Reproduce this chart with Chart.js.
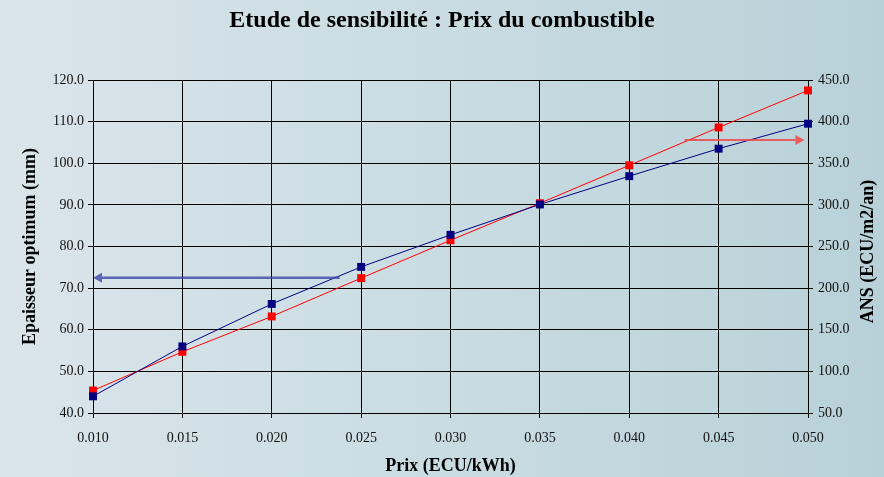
<!DOCTYPE html>
<html>
<head>
<meta charset="utf-8">
<script src="https://cdn.jsdelivr.net/npm/chart.js@4"></script>
<style>
  html, body { margin: 0; padding: 0; }
  body { width: 884px; height: 477px; overflow: hidden;
    background: linear-gradient(to right, #dae5ea 0%, #c9dce2 50%, #b8d1d8 100%); }
  #wrap { width: 884px; height: 477px; position: relative; }
</style>
</head>
<body>
<div id="wrap"><canvas id="c"></canvas></div>
<script>
// ---- data ----
const prix = [0.010, 0.015, 0.020, 0.025, 0.030, 0.035, 0.040, 0.045, 0.050];
const epaisseur = [44.0, 56.0, 66.2, 75.1, 82.8, 90.1, 96.9, 103.5, 109.5];
const ans = [77, 123.5, 166, 212, 257.5, 302, 347.5, 393, 437.5];

// axis-indicator arrows, in data units
const arrowBlue = { xFrom: 0.0238, xTo: 0.010, y: 72.5, axis: 'y' };
const arrowRed = { xFrom: 0.0431, xTo: 0.0498, y: 378, axis: 'y2' };

const rightTitle = 'ANS (ECU/m2/an)';
const serif = "'Liberation Serif', 'Times New Roman', serif";

const arrowPlugin = {
  id: 'axisArrows',
  afterDatasetsDraw(chart) {
    const ctx = chart.ctx;
    const xs = chart.scales.x;
    const draw = (a, color, w) => {
      const ys = chart.scales[a.axis];
      const x1 = xs.getPixelForValue(a.xFrom);
      const x2 = xs.getPixelForValue(a.xTo);
      const y = ys.getPixelForValue(a.y);
      const dir = Math.sign(x2 - x1);
      const hl = 9, hw = 5;
      ctx.save();
      ctx.strokeStyle = color;
      ctx.fillStyle = color;
      ctx.lineWidth = w;
      ctx.beginPath();
      ctx.moveTo(x1, y);
      ctx.lineTo(x2 - dir * hl, y);
      ctx.stroke();
      ctx.beginPath();
      ctx.moveTo(x2, y);
      ctx.lineTo(x2 - dir * hl, y - hw);
      ctx.lineTo(x2 - dir * hl, y + hw);
      ctx.closePath();
      ctx.fill();
      ctx.restore();
    };
    draw(arrowBlue, 'rgba(60,70,170,0.8)', 2.5);
    draw(arrowRed, 'rgba(240,70,70,0.85)', 2);
  }
};

// right axis title, reading bottom-to-top like the left one
const rightTitlePlugin = {
  id: 'rightTitle',
  afterDraw(chart) {
    const s = chart.scales.y2;
    const ctx = chart.ctx;
    ctx.save();
    ctx.translate(s.right - 16, (s.top + s.bottom) / 2 + 5);
    ctx.rotate(-Math.PI / 2);
    ctx.font = 'bold 18px ' + serif;
    ctx.fillStyle = '#000';
    ctx.textAlign = 'center';
    ctx.textBaseline = 'middle';
    ctx.fillText(rightTitle, 0, 0);
    ctx.restore();
  }
};

new Chart(document.getElementById('c'), {
  type: 'line',
  data: {
    datasets: [
      {
        label: 'Epaisseur optimum (mm)',
        data: prix.map((p, i) => ({ x: p, y: epaisseur[i] })),
        yAxisID: 'y',
        borderColor: '#000080',
        backgroundColor: '#000080',
        borderWidth: 1,
        pointStyle: 'rect',
        pointRadius: 5.6,
        pointHoverRadius: 5.6,
        pointBorderWidth: 0,
        tension: 0,
        clip: false
      },
      {
        label: rightTitle,
        data: prix.map((p, i) => ({ x: p, y: ans[i] })),
        yAxisID: 'y2',
        borderColor: '#ff0000',
        backgroundColor: '#ff0000',
        borderWidth: 1,
        pointStyle: 'rect',
        pointRadius: 5.6,
        pointHoverRadius: 5.6,
        pointBorderWidth: 0,
        tension: 0,
        clip: false
      }
    ]
  },
  options: {
    responsive: true,
    maintainAspectRatio: false,
    animation: false,
    layout: { padding: 0 },
    plugins: {
      legend: { display: false },
      tooltip: { enabled: false },
      title: {
        display: true,
        text: 'Etude de sensibilité : Prix du combustible',
        color: '#000',
        font: { family: serif, size: 24, weight: 'bold' },
        padding: { top: 6, bottom: 45.2 }
      }
    },
    scales: {
      x: {
        type: 'linear',
        min: 0.010,
        max: 0.050,
        ticks: {
          stepSize: 0.005,
          color: '#111',
          font: { family: serif, size: 14 },
          padding: 12,
          callback: v => v.toFixed(3)
        },
        grid: { color: '#000', lineWidth: 1, tickLength: 5, drawOnChartArea: true },
        border: { display: true, color: '#000', width: 1 },
        title: {
          display: true,
          text: 'Prix (ECU/kWh)',
          color: '#000',
          font: { family: serif, size: 18, weight: 'bold' },
          padding: { top: 0, bottom: 0 }
        },
        afterFit: s => { s.height = 64; }
      },
      y: {
        position: 'left',
        min: 40,
        max: 120,
        ticks: {
          stepSize: 10,
          color: '#111',
          font: { family: serif, size: 14 },
          padding: 4,
          callback: v => v.toFixed(1)
        },
        grid: { color: '#000', lineWidth: 1, tickLength: 5 },
        border: { display: true, color: '#000', width: 1 },
        title: {
          display: true,
          text: 'Epaisseur optimum (mm)',
          color: '#000',
          font: { family: serif, size: 18, weight: 'bold' },
          padding: { top: 20, bottom: 0 }
        },
        afterFit: s => { s.width = 93; }
      },
      y2: {
        position: 'right',
        min: 50,
        max: 450,
        ticks: {
          stepSize: 50,
          color: '#111',
          font: { family: serif, size: 14 },
          padding: 5,
          callback: v => v.toFixed(1)
        },
        grid: { drawOnChartArea: false, color: '#000', lineWidth: 1, tickLength: 5 },
        border: { display: true, color: '#000', width: 1 },
        title: { display: false },
        afterFit: s => { s.width = 76; }
      }
    }
  },
  plugins: [arrowPlugin, rightTitlePlugin]
});
</script>
</body>
</html>
